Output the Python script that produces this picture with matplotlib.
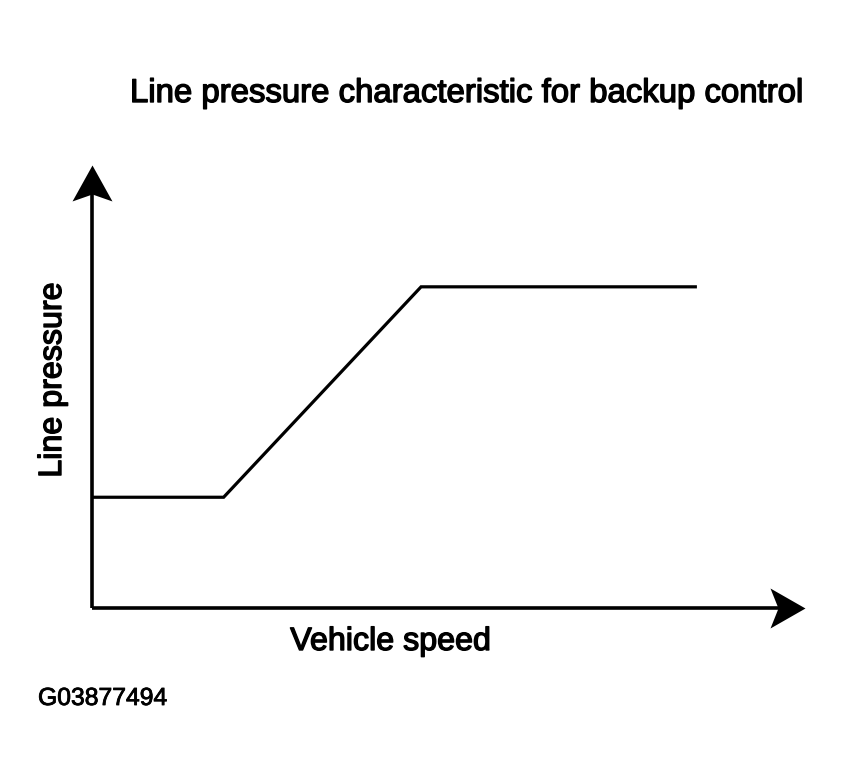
import numpy as np
import matplotlib
matplotlib.use("Agg")
import matplotlib.pyplot as plt
import matplotlib.patheffects as pe
from matplotlib.path import Path

plt.rcParams["font.family"] = ["Liberation Sans", "DejaVu Sans"]

# Line pressure vs vehicle speed (arbitrary units)
speed = [0, 2.4, 6.0, 11.0]
pressure = [2.0, 2.0, 5.8, 5.8]

title = "Line pressure characteristic for backup control"
xlabel = "Vehicle speed"
ylabel = "Line pressure"
fig_code = "G03877494"

fig = plt.figure(figsize=(8.44, 7.82), dpi=100)
ax = fig.add_axes([92 / 844, 174 / 782, 713 / 844, 443 / 782])
ax.set_xlim(0, 13)
ax.set_ylim(0, 8)

# the curve
ax.plot(speed, pressure, color="black", lw=2.3, solid_joinstyle="miter")

# axis lines, stopped a little short so the arrow tips stay sharp
for side in ["top", "right"]:
    ax.spines[side].set_visible(False)
for side in ["left", "bottom"]:
    ax.spines[side].set_linewidth(2.6)
    ax.spines[side].set_color("black")
    ax.spines[side].set_capstyle("butt")
ax.spines["left"].set_bounds(0, 7.6)
ax.spines["bottom"].set_bounds(0, 12.6)
ax.set_xticks([])
ax.set_yticks([])

# notched arrow heads at the ends of the axes
right_head = Path([(0, 0), (-35, 20), (-27, 0), (-35, -20), (0, 0)],
                  [Path.MOVETO, Path.LINETO, Path.LINETO, Path.LINETO, Path.CLOSEPOLY])
up_head = Path([(0, 0), (-20, -36), (0, -29), (20, -36), (0, 0)],
               [Path.MOVETO, Path.LINETO, Path.LINETO, Path.LINETO, Path.CLOSEPOLY])
ax.plot(1, 0, marker=right_head, ms=50.4, color="black", mew=0,
        transform=ax.transAxes, clip_on=False)
ax.plot(0, 1, marker=up_head, ms=51.8, color="black", mew=0,
        transform=ax.transAxes, clip_on=False)

# texts (a thin stroke to match the heavy print)
heavy = [pe.withStroke(linewidth=1.0, foreground="black")]
fig.text(130 / 844, (782 - 102) / 782, title, fontsize=23.7, ha="left", va="baseline",
         path_effects=heavy)
fig.text(390.5 / 844, (782 - 650) / 782, xlabel, fontsize=23.2, ha="center", va="baseline",
         path_effects=heavy)
fig.text(53 / 844, (782 - 380) / 782, ylabel, fontsize=23.2, rotation=90,
         ha="center", va="center", path_effects=heavy)
fig.text(38 / 844, (782 - 705) / 782, fig_code, fontsize=17.8, ha="left", va="baseline",
         path_effects=[pe.withStroke(linewidth=0.6, foreground="black")])

fig.savefig("out.png", dpi=100)
